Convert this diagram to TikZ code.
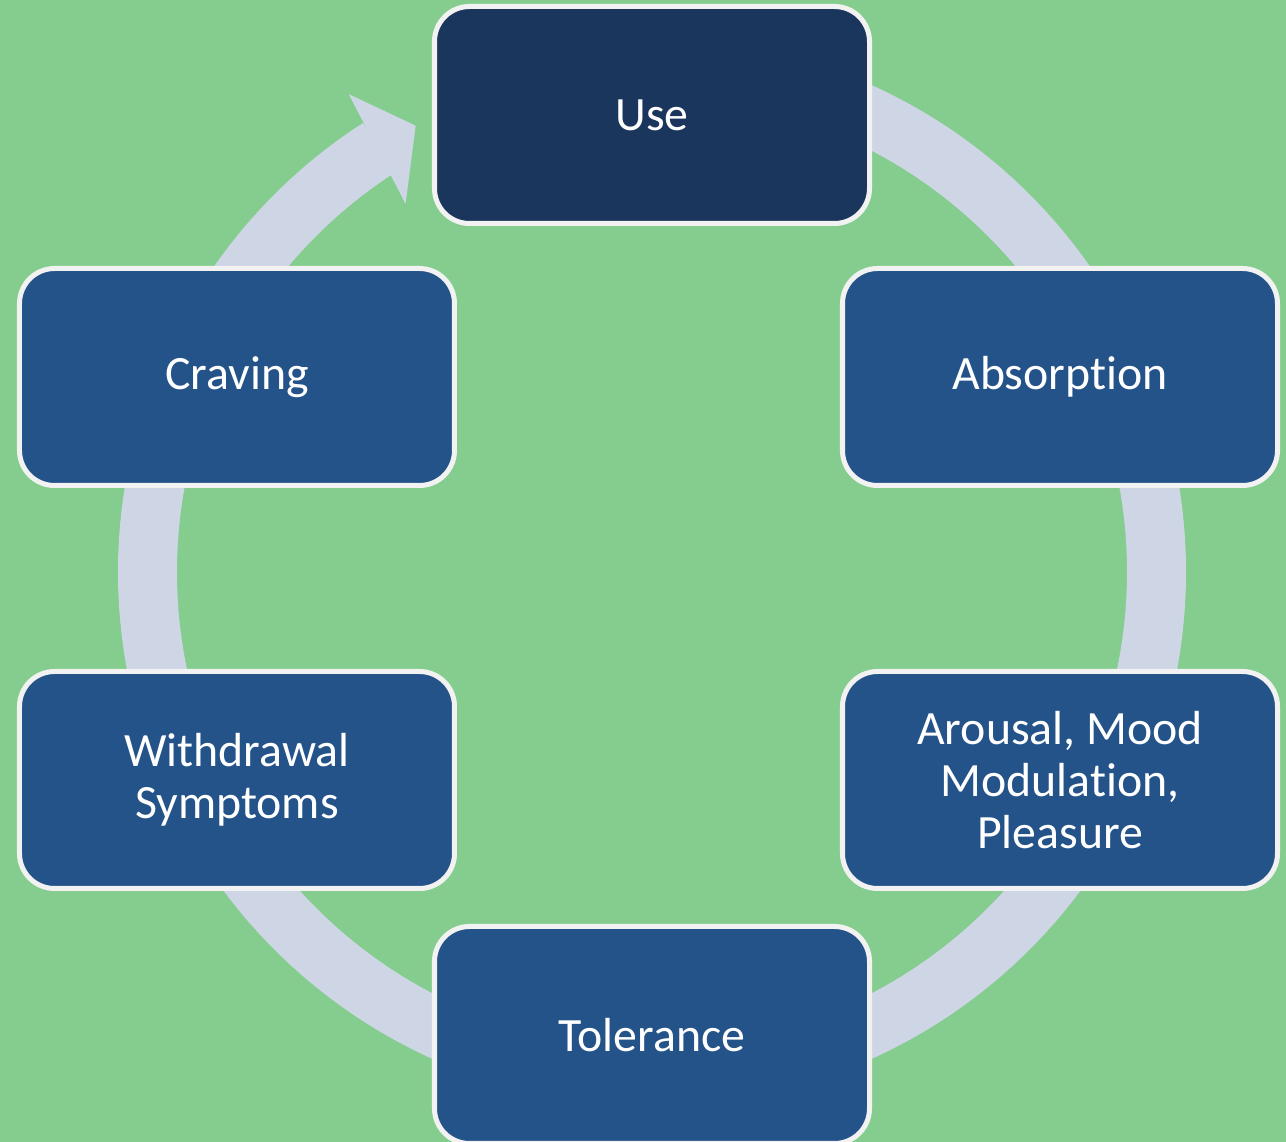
\documentclass[tikz,border=0pt]{standalone}
\usepackage{fontspec}
\setmainfont{Carlito}[RawFeature={-liga;-calt;-clig;-rlig}]
\usepackage{xcolor}
\usepackage{tikz}
\usetikzlibrary{calc,positioning}
\definecolor{bggreen}{HTML}{84CD8E}
\definecolor{ringblue}{HTML}{CED5E4}
\definecolor{boxblue}{HTML}{245389}
\definecolor{usedark}{HTML}{1A365D}
\definecolor{boxline}{HTML}{F2F2F2}
\newcommand{\boxfont}{\fontsize{13.6}{14.8}\selectfont}

\begin{document}
\begin{tikzpicture}
[every node/.style={shape=rectangle,rounded corners=0.35cm,draw=boxline,
	line width=0.05cm,fill=boxblue,text=white,minimum width=4.35cm,
	minimum height=2.17cm,align=center,font=\boxfont}]
\fill[bggreen] (0,0) rectangle (12.86,11.42);
\useasboundingbox (0,0) rectangle (12.86,11.42);
%% ring with arrow head
\coordinate (c) at (6.52,5.70);
\begin{scope}[shift={(c)}]
\draw[ringblue,line width=0.59cm] (90:5.045) arc[start angle=90,end angle=-237.25,radius=5.045];
\fill[ringblue] (122.4:5.66) -- (117.9:5.05) -- (123.8:4.43) -- cycle;
\end{scope}
%% boxes
\node[fill=usedark] (use) at (6.52,10.27) {Use};
\node (absorption) at (10.60,7.65) {Absorpt\kern0pt ion};
\node (arousal) at (10.60,3.62) {Arousal, Mood\\Modulat\kern0pt ion,\\Pleasure};
\node (tolerance) at (6.52,1.07) {Tolerance};
\node (withdrawal) at (2.37,3.62) {Withdrawal\\Symptoms};
\node (craving) at (2.37,7.65) {Craving};
\end{tikzpicture}
\end{document}
